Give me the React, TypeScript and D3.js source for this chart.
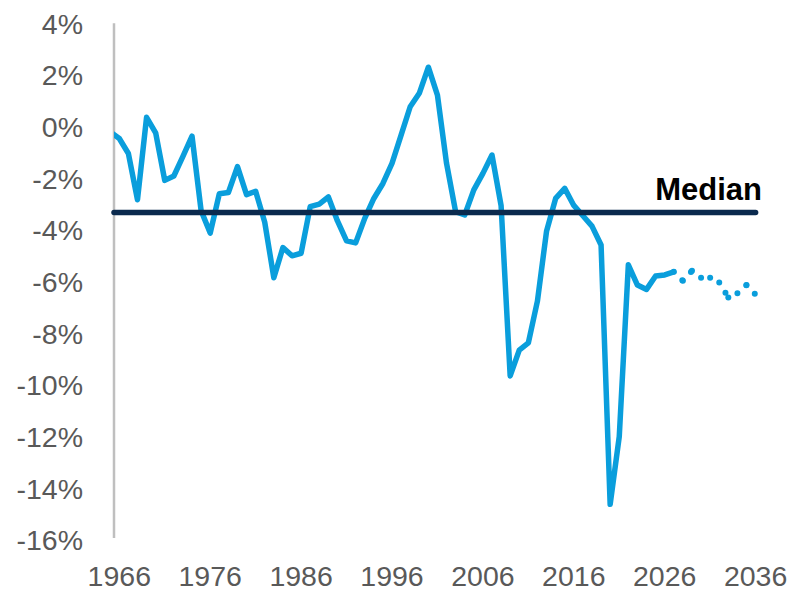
import React from 'react';
import * as d3 from 'd3';

const actualYears: number[] = d3.range(1965, 2028);
const actualValues: number[] = [
  -0.2, -0.46, -1.04, -2.83, 0.36, -0.24, -2.08, -1.91, -1.15, -0.37,
  -3.25, -4.12, -2.6, -2.55, -1.55, -2.63, -2.5, -3.7, -5.85, -4.68,
  -5.0, -4.9, -3.1, -3.0, -2.72, -3.65, -4.42, -4.5, -3.55, -2.78,
  -2.2, -1.42, -0.33, 0.77, 1.29, 2.3, 1.22, -1.42, -3.29, -3.42,
  -2.45, -1.81, -1.1, -3.05, -9.65, -8.65, -8.37, -6.75, -4.05, -2.78,
  -2.39, -3.05, -3.45, -3.85, -4.58, -14.62, -12.0, -5.35, -6.13, -6.3,
  -5.78, -5.74, -5.62,
];
const projYears: number[] = d3.range(2027, 2037);
const projValues: number[] = [-5.62, -5.97, -5.58, -5.85, -5.85, -6.03, -6.61, -6.45, -6.13, -6.5];
const medianValue = -3.32;
const yTicks: number[] = [4, 2, 0, -2, -4, -6, -8, -10, -12, -14, -16];
const xTicks: number[] = [1966, 1976, 1986, 1996, 2006, 2016, 2026, 2036];

const W = 794;
const H = 592;
const BLUE = '#0A9EDC';
const NAVY = '#0B2A4E';
const GRAY = '#595959';
const FONT = '"Liberation Sans", Arial, sans-serif';

export default function App() {
  const x = d3.scaleLinear().domain([1966, 2036]).range([119.3, 755.6]);
  const y = d3.scaleLinear().domain([-16, 4]).range([540, 23.3]);
  const axisX = 114;

  const line = d3
    .line<[number, number]>()
    .x((d) => x(d[0]))
    .y((d) => y(d[1]));

  const actual: [number, number][] = actualYears.map((yr, i) => [yr, actualValues[i]]);
  const proj: [number, number][] = projYears.map((yr, i) => [yr, projValues[i]]);

  const dotPeriod = 12;
  const projSegs = proj.slice(0, -1).map((p, i) => {
    const q = proj[i + 1];
    return { x1: x(p[0]), y1: y(p[1]), x2: x(q[0]), y2: y(q[1]) };
  });

  return (
    <svg
      width={W}
      height={H}
      style={{ position: 'absolute', left: 0, top: 0, background: '#fff' }}
    >
      <defs>
        <clipPath id="plotClip">
          <rect x={axisX} y={0} width={W - axisX} height={H} />
        </clipPath>
      </defs>

      {yTicks.map((t) => (
        <text
          key={t}
          x={83}
          y={y(t)}
          dy="0.36em"
          textAnchor="end"
          fontFamily={FONT}
          fontSize={28.5}
          fill={GRAY}
        >
          {`${t}%`}
        </text>
      ))}

      {xTicks.map((t) => (
        <text
          key={t}
          x={x(t)}
          y={586}
          textAnchor="middle"
          fontFamily={FONT}
          fontSize={28.5}
          fill={GRAY}
        >
          {t}
        </text>
      ))}

      <line
        x1={axisX}
        x2={axisX}
        y1={y(4)}
        y2={y(-16) - 2}
        stroke="#BFBFBF"
        strokeWidth={2.5}
      />

      <g clipPath="url(#plotClip)">
        <path
          d={line(actual) || ''}
          fill="none"
          stroke={BLUE}
          strokeWidth={5.5}
          strokeLinejoin="round"
          strokeLinecap="round"
        />
      </g>

      {projSegs.map((s, i) => (
        <line
          key={i}
          x1={s.x1}
          y1={s.y1}
          x2={s.x2}
          y2={s.y2}
          stroke={BLUE}
          strokeWidth={6}
          strokeLinecap="round"
          strokeDasharray={`0 ${dotPeriod}`}
        />
      ))}

      <line
        x1={axisX}
        x2={x(2036)}
        y1={y(medianValue)}
        y2={y(medianValue)}
        stroke={NAVY}
        strokeWidth={5.5}
        strokeLinecap="round"
      />
      <text
        x={762}
        y={200}
        textAnchor="end"
        fontFamily={FONT}
        fontSize={31}
        fontWeight="bold"
        fill="#000"
      >
        Median
      </text>
    </svg>
  );
}
